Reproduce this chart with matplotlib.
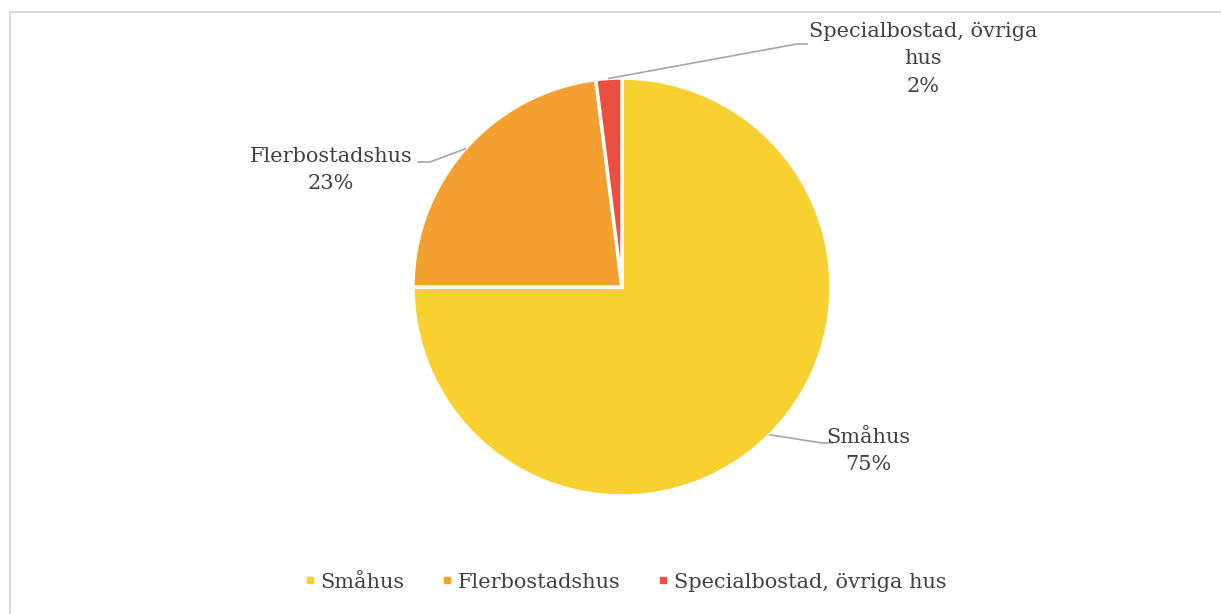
import matplotlib.pyplot as plt
import numpy as np
from matplotlib.lines import Line2D

plt.rcParams['font.family'] = ['DejaVu Serif']

categories = ['Småhus', 'Flerbostadshus', 'Specialbostad, övriga hus']
label_texts = ['Småhus', 'Flerbostadshus', 'Specialbostad, övriga\nhus']
shares = [75, 23, 2]
colors = ['#f8d030', '#f4a030', '#ea4f3f']

W, H = 1221, 614
fig = plt.figure(figsize=(W / 100, H / 100), dpi=100)
ax = fig.add_axes([0, 0, 1, 1])

cx, cy, r = 622, H - 287, 209
wedges, _ = ax.pie(shares, colors=colors, startangle=90, counterclock=False,
                   center=(cx, cy), radius=r, frame=True,
                   wedgeprops=dict(edgecolor='white', linewidth=2.5))
ax.set_xlim(0, W)
ax.set_ylim(0, H)
ax.set_aspect('equal')
ax.axis('off')

# label text centre, elbow point, end of leader (pixel coords from top)
label_pos = [(868, 451), (331, 170), (923, 59)]
elbows = [(822, 443), (430, 162), (797, 44)]
ends = [(833, 443), (418, 162), (807, 44)]

for w, s, txt, lp, el, en in zip(wedges, shares, label_texts, label_pos, elbows, ends):
    ang = np.deg2rad((w.theta1 + w.theta2) / 2)
    x0, y0 = cx + r * np.cos(ang), cy + r * np.sin(ang)
    ax.plot([x0, el[0], en[0]], [y0, H - el[1], H - en[1]],
            color='#a6a6a6', lw=1.2, zorder=1)
    ax.text(lp[0], H - lp[1], f'{txt}\n{s}%', ha='center', va='center',
            fontsize=15, color='#404040', linespacing=1.55)

# chart border (top and left visible)
ax.plot([10, W], [H - 12, H - 12], color='#d9d9d9', lw=1.5, clip_on=False)
ax.plot([10, 10], [H - 12, 0], color='#d9d9d9', lw=1.5, clip_on=False)

handles = [Line2D([], [], marker='s', ls='none', markersize=5,
                  markerfacecolor=c, markeredgecolor=c) for c in colors]
ax.legend(handles, categories, loc='center', bbox_to_anchor=(624 / W, 1 - 582 / H),
          ncol=3, frameon=False, fontsize=15, labelcolor='#404040',
          handletextpad=0.1, columnspacing=1.65, handlelength=0.8)

fig.savefig('out.png', dpi=100, facecolor='white')
